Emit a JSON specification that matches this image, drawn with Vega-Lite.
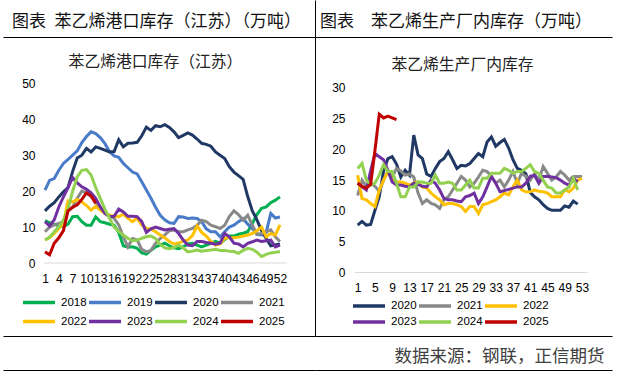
{
  "$schema": "https://vega.github.io/schema/vega-lite/v6.json",
  "background": "white",
  "padding": {"left": 3, "top": 0, "right": 5, "bottom": 4},
  "autosize": {"type": "pad"},
  "bounds": "flush",
  "spacing": 0,
  "config": {
    "view": {"stroke": null},
    "axis": {"ticks": false, "domain": false, "grid": false, "labelFont": "Liberation Sans", "labelFontSize": 12, "labelColor": "#000000", "labelOverlap": false, "labelFlush": false, "labelBound": false},
    "legend": {"orient": "none", "direction": "horizontal", "title": null, "symbolType": "stroke", "symbolSize": 1024, "symbolStrokeWidth": 3.5, "labelFont": "Liberation Sans", "labelFontSize": 11.5, "labelColor": "#000000", "labelOffset": 4, "padding": 0}
  },
  "resolve": {"scale": {"color": "independent"}, "legend": {"color": "independent"}},
  "datasets": {
    "port": [
      {"year":"2018","week":1,"value":11.8},{"year":"2018","week":2,"value":11.2},{"year":"2018","week":3,"value":10.8},{"year":"2018","week":4,"value":10.3},{"year":"2018","week":5,"value":10.1},{"year":"2018","week":6,"value":10.8},{"year":"2018","week":7,"value":12.9},{"year":"2018","week":8,"value":13.0},{"year":"2018","week":9,"value":11.5},{"year":"2018","week":10,"value":10.5},
      {"year":"2018","week":11,"value":10.5},{"year":"2018","week":12,"value":12.8},{"year":"2018","week":13,"value":11.5},{"year":"2018","week":14,"value":11.2},{"year":"2018","week":15,"value":10.8},{"year":"2018","week":16,"value":10.5},{"year":"2018","week":17,"value":8.5},{"year":"2018","week":18,"value":4.8},{"year":"2018","week":19,"value":4.4},{"year":"2018","week":20,"value":4.5},
      {"year":"2018","week":21,"value":4.1},{"year":"2018","week":22,"value":2.8},{"year":"2018","week":23,"value":2.5},{"year":"2018","week":24,"value":3.5},{"year":"2018","week":25,"value":4.5},{"year":"2018","week":26,"value":5.0},{"year":"2018","week":27,"value":5.5},{"year":"2018","week":28,"value":4.8},{"year":"2018","week":29,"value":4.2},{"year":"2018","week":30,"value":4.0},
      {"year":"2018","week":31,"value":4.5},{"year":"2018","week":32,"value":5.3},{"year":"2018","week":33,"value":5.5},{"year":"2018","week":34,"value":5.0},{"year":"2018","week":35,"value":4.5},{"year":"2018","week":36,"value":5.0},{"year":"2018","week":37,"value":5.5},{"year":"2018","week":38,"value":6.0},{"year":"2018","week":39,"value":5.5},{"year":"2018","week":40,"value":6.5},
      {"year":"2018","week":41,"value":7.5},{"year":"2018","week":42,"value":7.5},{"year":"2018","week":43,"value":8.0},{"year":"2018","week":44,"value":8.3},{"year":"2018","week":45,"value":8.7},{"year":"2018","week":46,"value":11.0},{"year":"2018","week":47,"value":13.5},{"year":"2018","week":48,"value":15.2},{"year":"2018","week":49,"value":15.6},{"year":"2018","week":50,"value":16.8},
      {"year":"2018","week":51,"value":17.5},{"year":"2018","week":52,"value":18.4},
      {"year":"2019","week":1,"value":20.3},{"year":"2019","week":2,"value":23.0},{"year":"2019","week":3,"value":23.5},{"year":"2019","week":4,"value":25.8},{"year":"2019","week":5,"value":27.7},{"year":"2019","week":6,"value":28.8},{"year":"2019","week":7,"value":30.0},{"year":"2019","week":8,"value":31.2},{"year":"2019","week":9,"value":33.5},{"year":"2019","week":10,"value":35.2},
      {"year":"2019","week":11,"value":36.5},{"year":"2019","week":12,"value":36.0},{"year":"2019","week":13,"value":34.9},{"year":"2019","week":14,"value":33.2},{"year":"2019","week":15,"value":31.0},{"year":"2019","week":16,"value":29.8},{"year":"2019","week":17,"value":29.4},{"year":"2019","week":18,"value":27.7},{"year":"2019","week":19,"value":26.5},{"year":"2019","week":20,"value":25.3},
      {"year":"2019","week":21,"value":24.8},{"year":"2019","week":22,"value":22.6},{"year":"2019","week":23,"value":20.3},{"year":"2019","week":24,"value":18.0},{"year":"2019","week":25,"value":15.5},{"year":"2019","week":26,"value":13.3},{"year":"2019","week":27,"value":12.0},{"year":"2019","week":28,"value":11.2},{"year":"2019","week":29,"value":11.0},{"year":"2019","week":30,"value":12.9},
      {"year":"2019","week":31,"value":12.8},{"year":"2019","week":32,"value":12.4},{"year":"2019","week":33,"value":12.5},{"year":"2019","week":34,"value":12.4},{"year":"2019","week":35,"value":11.5},{"year":"2019","week":36,"value":9.5},{"year":"2019","week":37,"value":8.7},{"year":"2019","week":38,"value":8.7},{"year":"2019","week":39,"value":7.3},{"year":"2019","week":40,"value":8.7},
      {"year":"2019","week":41,"value":10.0},{"year":"2019","week":42,"value":10.5},{"year":"2019","week":43,"value":11.5},{"year":"2019","week":44,"value":12.4},{"year":"2019","week":45,"value":10.8},{"year":"2019","week":46,"value":9.6},{"year":"2019","week":47,"value":8.0},{"year":"2019","week":48,"value":7.8},{"year":"2019","week":49,"value":8.5},{"year":"2019","week":50,"value":13.8},
      {"year":"2019","week":51,"value":12.5},{"year":"2019","week":52,"value":12.8},
      {"year":"2020","week":1,"value":14.5},{"year":"2020","week":2,"value":15.8},{"year":"2020","week":3,"value":16.8},{"year":"2020","week":4,"value":18.4},{"year":"2020","week":5,"value":19.8},{"year":"2020","week":6,"value":21.0},{"year":"2020","week":7,"value":25.5},{"year":"2020","week":8,"value":29.2},{"year":"2020","week":9,"value":30.0},{"year":"2020","week":10,"value":31.9},
      {"year":"2020","week":11,"value":30.9},{"year":"2020","week":12,"value":32.3},{"year":"2020","week":13,"value":31.9},{"year":"2020","week":14,"value":31.4},{"year":"2020","week":15,"value":30.9},{"year":"2020","week":16,"value":31.0},{"year":"2020","week":17,"value":34.3},{"year":"2020","week":18,"value":32.3},{"year":"2020","week":19,"value":33.3},{"year":"2020","week":20,"value":33.4},
      {"year":"2020","week":21,"value":33.6},{"year":"2020","week":22,"value":35.4},{"year":"2020","week":23,"value":37.8},{"year":"2020","week":24,"value":36.9},{"year":"2020","week":25,"value":38.2},{"year":"2020","week":26,"value":37.9},{"year":"2020","week":27,"value":38.5},{"year":"2020","week":28,"value":37.7},{"year":"2020","week":29,"value":36.5},{"year":"2020","week":30,"value":34.9},
      {"year":"2020","week":31,"value":35.5},{"year":"2020","week":32,"value":36.2},{"year":"2020","week":33,"value":35.6},{"year":"2020","week":34,"value":34.5},{"year":"2020","week":35,"value":33.3},{"year":"2020","week":36,"value":33.0},{"year":"2020","week":37,"value":32.5},{"year":"2020","week":38,"value":30.9},{"year":"2020","week":39,"value":30.0},{"year":"2020","week":40,"value":29.1},
      {"year":"2020","week":41,"value":26.8},{"year":"2020","week":42,"value":25.3},{"year":"2020","week":43,"value":24.3},{"year":"2020","week":44,"value":23.3},{"year":"2020","week":45,"value":18.5},{"year":"2020","week":46,"value":14.5},{"year":"2020","week":47,"value":12.0},{"year":"2020","week":48,"value":9.0},{"year":"2020","week":49,"value":6.8},{"year":"2020","week":50,"value":4.8},
      {"year":"2020","week":51,"value":5.0},{"year":"2020","week":52,"value":5.3},
      {"year":"2021","week":1,"value":8.7},{"year":"2021","week":2,"value":10.0},{"year":"2021","week":3,"value":10.6},{"year":"2021","week":4,"value":11.0},{"year":"2021","week":5,"value":11.5},{"year":"2021","week":6,"value":14.5},{"year":"2021","week":7,"value":15.5},{"year":"2021","week":8,"value":18.0},{"year":"2021","week":9,"value":20.0},{"year":"2021","week":10,"value":19.5},
      {"year":"2021","week":11,"value":18.5},{"year":"2021","week":12,"value":17.0},{"year":"2021","week":13,"value":15.0},{"year":"2021","week":14,"value":14.0},{"year":"2021","week":15,"value":13.3},{"year":"2021","week":16,"value":12.4},{"year":"2021","week":17,"value":10.6},{"year":"2021","week":18,"value":7.3},{"year":"2021","week":19,"value":4.5},{"year":"2021","week":20,"value":6.8},
      {"year":"2021","week":21,"value":6.4},{"year":"2021","week":22,"value":3.8},{"year":"2021","week":23,"value":3.1},{"year":"2021","week":24,"value":3.5},{"year":"2021","week":25,"value":5.5},{"year":"2021","week":26,"value":6.8},{"year":"2021","week":27,"value":7.8},{"year":"2021","week":28,"value":9.0},{"year":"2021","week":29,"value":9.2},{"year":"2021","week":30,"value":8.7},
      {"year":"2021","week":31,"value":8.7},{"year":"2021","week":32,"value":9.2},{"year":"2021","week":33,"value":9.6},{"year":"2021","week":34,"value":10.5},{"year":"2021","week":35,"value":11.9},{"year":"2021","week":36,"value":11.5},{"year":"2021","week":37,"value":10.5},{"year":"2021","week":38,"value":10.1},{"year":"2021","week":39,"value":9.6},{"year":"2021","week":40,"value":10.5},
      {"year":"2021","week":41,"value":12.9},{"year":"2021","week":42,"value":14.5},{"year":"2021","week":43,"value":13.5},{"year":"2021","week":44,"value":11.9},{"year":"2021","week":45,"value":13.3},{"year":"2021","week":46,"value":10.5},{"year":"2021","week":47,"value":8.0},{"year":"2021","week":48,"value":8.2},{"year":"2021","week":49,"value":8.7},{"year":"2021","week":50,"value":9.2},
      {"year":"2021","week":51,"value":7.3},{"year":"2021","week":52,"value":6.0},
      {"year":"2022","week":1,"value":6.4},{"year":"2022","week":2,"value":7.0},{"year":"2022","week":3,"value":8.2},{"year":"2022","week":4,"value":9.6},{"year":"2022","week":5,"value":11.0},{"year":"2022","week":6,"value":17.3},{"year":"2022","week":7,"value":17.0},{"year":"2022","week":8,"value":17.7},{"year":"2022","week":9,"value":17.0},{"year":"2022","week":10,"value":16.0},
      {"year":"2022","week":11,"value":14.7},{"year":"2022","week":12,"value":15.8},{"year":"2022","week":13,"value":14.7},{"year":"2022","week":14,"value":13.8},{"year":"2022","week":15,"value":13.3},{"year":"2022","week":16,"value":13.0},{"year":"2022","week":17,"value":12.9},{"year":"2022","week":18,"value":13.6},{"year":"2022","week":19,"value":12.4},{"year":"2022","week":20,"value":11.5},
      {"year":"2022","week":21,"value":12.5},{"year":"2022","week":22,"value":10.6},{"year":"2022","week":23,"value":9.6},{"year":"2022","week":24,"value":9.5},{"year":"2022","week":25,"value":8.7},{"year":"2022","week":26,"value":7.8},{"year":"2022","week":27,"value":7.0},{"year":"2022","week":28,"value":6.0},{"year":"2022","week":29,"value":5.3},{"year":"2022","week":30,"value":5.6},
      {"year":"2022","week":31,"value":6.0},{"year":"2022","week":32,"value":6.4},{"year":"2022","week":33,"value":7.6},{"year":"2022","week":34,"value":10.3},{"year":"2022","week":35,"value":8.5},{"year":"2022","week":36,"value":7.5},{"year":"2022","week":37,"value":6.0},{"year":"2022","week":38,"value":5.0},{"year":"2022","week":39,"value":5.3},{"year":"2022","week":40,"value":6.9},
      {"year":"2022","week":41,"value":7.0},{"year":"2022","week":42,"value":7.0},{"year":"2022","week":43,"value":7.2},{"year":"2022","week":44,"value":7.5},{"year":"2022","week":45,"value":7.8},{"year":"2022","week":46,"value":8.2},{"year":"2022","week":47,"value":9.0},{"year":"2022","week":48,"value":10.0},{"year":"2022","week":49,"value":7.3},{"year":"2022","week":50,"value":8.2},
      {"year":"2022","week":51,"value":7.8},{"year":"2022","week":52,"value":10.6},
      {"year":"2023","week":1,"value":11.5},{"year":"2023","week":2,"value":10.3},{"year":"2023","week":3,"value":12.0},{"year":"2023","week":4,"value":15.6},{"year":"2023","week":5,"value":18.4},{"year":"2023","week":6,"value":21.0},{"year":"2023","week":7,"value":23.8},{"year":"2023","week":8,"value":22.3},{"year":"2023","week":9,"value":21.2},{"year":"2023","week":10,"value":20.5},
      {"year":"2023","week":11,"value":19.5},{"year":"2023","week":12,"value":18.0},{"year":"2023","week":13,"value":15.6},{"year":"2023","week":14,"value":13.8},{"year":"2023","week":15,"value":12.9},{"year":"2023","week":16,"value":13.0},{"year":"2023","week":17,"value":15.0},{"year":"2023","week":18,"value":14.2},{"year":"2023","week":19,"value":13.0},{"year":"2023","week":20,"value":13.0},
      {"year":"2023","week":21,"value":12.9},{"year":"2023","week":22,"value":11.5},{"year":"2023","week":23,"value":8.5},{"year":"2023","week":24,"value":9.5},{"year":"2023","week":25,"value":10.0},{"year":"2023","week":26,"value":9.6},{"year":"2023","week":27,"value":9.2},{"year":"2023","week":28,"value":9.4},{"year":"2023","week":29,"value":9.6},{"year":"2023","week":30,"value":8.2},
      {"year":"2023","week":31,"value":6.4},{"year":"2023","week":32,"value":5.0},{"year":"2023","week":33,"value":4.8},{"year":"2023","week":34,"value":6.0},{"year":"2023","week":35,"value":6.0},{"year":"2023","week":36,"value":5.7},{"year":"2023","week":37,"value":5.5},{"year":"2023","week":38,"value":5.2},{"year":"2023","week":39,"value":5.5},{"year":"2023","week":40,"value":8.2},
      {"year":"2023","week":41,"value":7.3},{"year":"2023","week":42,"value":5.5},{"year":"2023","week":43,"value":5.3},{"year":"2023","week":44,"value":4.5},{"year":"2023","week":45,"value":5.5},{"year":"2023","week":46,"value":5.9},{"year":"2023","week":47,"value":6.4},{"year":"2023","week":48,"value":6.0},{"year":"2023","week":49,"value":6.2},{"year":"2023","week":50,"value":6.4},
      {"year":"2023","week":51,"value":4.5},{"year":"2023","week":52,"value":5.0},
      {"year":"2024","week":1,"value":6.4},{"year":"2024","week":2,"value":7.2},{"year":"2024","week":3,"value":8.7},{"year":"2024","week":4,"value":10.1},{"year":"2024","week":5,"value":11.9},{"year":"2024","week":6,"value":15.0},{"year":"2024","week":7,"value":20.0},{"year":"2024","week":8,"value":24.0},{"year":"2024","week":9,"value":25.8},{"year":"2024","week":10,"value":26.0},
      {"year":"2024","week":11,"value":24.5},{"year":"2024","week":12,"value":21.0},{"year":"2024","week":13,"value":18.0},{"year":"2024","week":14,"value":15.0},{"year":"2024","week":15,"value":12.5},{"year":"2024","week":16,"value":10.0},{"year":"2024","week":17,"value":8.8},{"year":"2024","week":18,"value":7.8},{"year":"2024","week":19,"value":6.9},{"year":"2024","week":20,"value":6.2},
      {"year":"2024","week":21,"value":6.3},{"year":"2024","week":22,"value":6.9},{"year":"2024","week":23,"value":7.3},{"year":"2024","week":24,"value":7.5},{"year":"2024","week":25,"value":6.8},{"year":"2024","week":26,"value":5.2},{"year":"2024","week":27,"value":4.2},{"year":"2024","week":28,"value":4.0},{"year":"2024","week":29,"value":4.3},{"year":"2024","week":30,"value":5.0},
      {"year":"2024","week":31,"value":4.2},{"year":"2024","week":32,"value":3.1},{"year":"2024","week":33,"value":3.3},{"year":"2024","week":34,"value":3.6},{"year":"2024","week":35,"value":3.3},{"year":"2024","week":36,"value":3.5},{"year":"2024","week":37,"value":3.6},{"year":"2024","week":38,"value":3.8},{"year":"2024","week":39,"value":3.5},{"year":"2024","week":40,"value":3.5},
      {"year":"2024","week":41,"value":3.3},{"year":"2024","week":42,"value":3.2},{"year":"2024","week":43,"value":2.7},{"year":"2024","week":44,"value":3.5},{"year":"2024","week":45,"value":4.1},{"year":"2024","week":46,"value":3.8},{"year":"2024","week":47,"value":3.0},{"year":"2024","week":48,"value":1.8},{"year":"2024","week":49,"value":2.4},{"year":"2024","week":50,"value":2.8},
      {"year":"2024","week":51,"value":3.0},{"year":"2024","week":52,"value":3.1},
      {"year":"2025","week":1,"value":3.1},{"year":"2025","week":2,"value":2.3},{"year":"2025","week":3,"value":5.5},{"year":"2025","week":4,"value":7.0},{"year":"2025","week":5,"value":9.0},{"year":"2025","week":6,"value":14.5},{"year":"2025","week":7,"value":15.5},{"year":"2025","week":8,"value":16.2},{"year":"2025","week":9,"value":17.7},{"year":"2025","week":10,"value":19.5},
      {"year":"2025","week":11,"value":18.7},{"year":"2025","week":12,"value":16.6}
    ],
    "plant": [
      {"year":"2020","week":1,"value":7.7},{"year":"2020","week":2,"value":8.3},{"year":"2020","week":3,"value":7.7},{"year":"2020","week":4,"value":7.8},{"year":"2020","week":5,"value":10.1},{"year":"2020","week":6,"value":12.3},{"year":"2020","week":7,"value":16.5},{"year":"2020","week":8,"value":18.5},{"year":"2020","week":9,"value":18.8},{"year":"2020","week":10,"value":17.6},
      {"year":"2020","week":11,"value":15.5},{"year":"2020","week":12,"value":16.6},{"year":"2020","week":13,"value":15.8},{"year":"2020","week":14,"value":22.3},{"year":"2020","week":15,"value":19.1},{"year":"2020","week":16,"value":18.5},{"year":"2020","week":17,"value":16.0},{"year":"2020","week":18,"value":15.6},{"year":"2020","week":19,"value":16.9},{"year":"2020","week":20,"value":18.0},
      {"year":"2020","week":21,"value":18.5},{"year":"2020","week":22,"value":19.6},{"year":"2020","week":23,"value":18.3},{"year":"2020","week":24,"value":16.9},{"year":"2020","week":25,"value":17.4},{"year":"2020","week":26,"value":17.3},{"year":"2020","week":27,"value":17.7},{"year":"2020","week":28,"value":18.5},{"year":"2020","week":29,"value":19.3},{"year":"2020","week":30,"value":18.8},
      {"year":"2020","week":31,"value":21.2},{"year":"2020","week":32,"value":22.0},{"year":"2020","week":33,"value":20.5},{"year":"2020","week":34,"value":21.1},{"year":"2020","week":35,"value":21.6},{"year":"2020","week":36,"value":20.2},{"year":"2020","week":37,"value":18.3},{"year":"2020","week":38,"value":16.9},{"year":"2020","week":39,"value":16.6},{"year":"2020","week":40,"value":16.0},
      {"year":"2020","week":41,"value":13.0},{"year":"2020","week":42,"value":12.3},{"year":"2020","week":43,"value":11.8},{"year":"2020","week":44,"value":11.0},{"year":"2020","week":45,"value":10.4},{"year":"2020","week":46,"value":10.1},{"year":"2020","week":47,"value":10.1},{"year":"2020","week":48,"value":10.1},{"year":"2020","week":49,"value":10.8},{"year":"2020","week":50,"value":10.6},
      {"year":"2020","week":51,"value":11.6},{"year":"2020","week":52,"value":11.1},
      {"year":"2021","week":1,"value":12.5},{"year":"2021","week":2,"value":15.0},{"year":"2021","week":3,"value":14.0},{"year":"2021","week":4,"value":14.5},{"year":"2021","week":5,"value":14.0},{"year":"2021","week":6,"value":13.2},{"year":"2021","week":7,"value":15.0},{"year":"2021","week":8,"value":16.5},{"year":"2021","week":9,"value":15.5},{"year":"2021","week":10,"value":16.9},
      {"year":"2021","week":11,"value":16.5},{"year":"2021","week":12,"value":15.8},{"year":"2021","week":13,"value":16.0},{"year":"2021","week":14,"value":15.5},{"year":"2021","week":15,"value":12.9},{"year":"2021","week":16,"value":11.2},{"year":"2021","week":17,"value":11.8},{"year":"2021","week":18,"value":11.2},{"year":"2021","week":19,"value":11.0},{"year":"2021","week":20,"value":10.4},
      {"year":"2021","week":21,"value":11.8},{"year":"2021","week":22,"value":12.3},{"year":"2021","week":23,"value":13.4},{"year":"2021","week":24,"value":14.5},{"year":"2021","week":25,"value":15.6},{"year":"2021","week":26,"value":15.0},{"year":"2021","week":27,"value":13.9},{"year":"2021","week":28,"value":14.5},{"year":"2021","week":29,"value":15.5},{"year":"2021","week":30,"value":16.6},
      {"year":"2021","week":31,"value":16.4},{"year":"2021","week":32,"value":15.6},{"year":"2021","week":33,"value":14.5},{"year":"2021","week":34,"value":15.0},{"year":"2021","week":35,"value":13.9},{"year":"2021","week":36,"value":15.0},{"year":"2021","week":37,"value":16.4},{"year":"2021","week":38,"value":14.5},{"year":"2021","week":39,"value":16.1},{"year":"2021","week":40,"value":15.6},
      {"year":"2021","week":41,"value":15.0},{"year":"2021","week":42,"value":16.0},{"year":"2021","week":43,"value":15.0},{"year":"2021","week":44,"value":17.2},{"year":"2021","week":45,"value":16.1},{"year":"2021","week":46,"value":15.0},{"year":"2021","week":47,"value":15.5},{"year":"2021","week":48,"value":16.4},{"year":"2021","week":49,"value":15.8},{"year":"2021","week":50,"value":15.0},
      {"year":"2021","week":51,"value":15.6},{"year":"2021","week":52,"value":15.6},{"year":"2021","week":53,"value":15.6},
      {"year":"2022","week":1,"value":15.8},{"year":"2022","week":2,"value":12.0},{"year":"2022","week":3,"value":11.8},{"year":"2022","week":4,"value":11.2},{"year":"2022","week":5,"value":10.7},{"year":"2022","week":6,"value":13.4},{"year":"2022","week":7,"value":15.0},{"year":"2022","week":8,"value":16.4},{"year":"2022","week":9,"value":15.0},{"year":"2022","week":10,"value":14.7},
      {"year":"2022","week":11,"value":14.7},{"year":"2022","week":12,"value":14.5},{"year":"2022","week":13,"value":14.2},{"year":"2022","week":14,"value":14.5},{"year":"2022","week":15,"value":14.7},{"year":"2022","week":16,"value":13.9},{"year":"2022","week":17,"value":13.7},{"year":"2022","week":18,"value":12.9},{"year":"2022","week":19,"value":12.3},{"year":"2022","week":20,"value":11.8},
      {"year":"2022","week":21,"value":11.0},{"year":"2022","week":22,"value":11.2},{"year":"2022","week":23,"value":11.2},{"year":"2022","week":24,"value":11.0},{"year":"2022","week":25,"value":10.7},{"year":"2022","week":26,"value":9.9},{"year":"2022","week":27,"value":10.7},{"year":"2022","week":28,"value":10.7},{"year":"2022","week":29,"value":9.6},{"year":"2022","week":30,"value":11.0},
      {"year":"2022","week":31,"value":11.2},{"year":"2022","week":32,"value":11.5},{"year":"2022","week":33,"value":11.8},{"year":"2022","week":34,"value":12.3},{"year":"2022","week":35,"value":12.9},{"year":"2022","week":36,"value":12.6},{"year":"2022","week":37,"value":13.9},{"year":"2022","week":38,"value":15.0},{"year":"2022","week":39,"value":13.4},{"year":"2022","week":40,"value":13.1},
      {"year":"2022","week":41,"value":13.1},{"year":"2022","week":42,"value":13.4},{"year":"2022","week":43,"value":13.2},{"year":"2022","week":44,"value":13.1},{"year":"2022","week":45,"value":12.9},{"year":"2022","week":46,"value":12.3},{"year":"2022","week":47,"value":12.3},{"year":"2022","week":48,"value":12.3},{"year":"2022","week":49,"value":13.4},{"year":"2022","week":50,"value":13.1},
      {"year":"2022","week":51,"value":13.7},{"year":"2022","week":52,"value":15.0},{"year":"2022","week":53,"value":15.3},
      {"year":"2023","week":1,"value":14.5},{"year":"2023","week":2,"value":13.9},{"year":"2023","week":3,"value":13.4},{"year":"2023","week":4,"value":16.5},{"year":"2023","week":5,"value":19.3},{"year":"2023","week":6,"value":18.8},{"year":"2023","week":7,"value":18.3},{"year":"2023","week":8,"value":16.6},{"year":"2023","week":9,"value":14.7},{"year":"2023","week":10,"value":14.2},
      {"year":"2023","week":11,"value":14.2},{"year":"2023","week":12,"value":14.0},{"year":"2023","week":13,"value":13.9},{"year":"2023","week":14,"value":14.5},{"year":"2023","week":15,"value":14.3},{"year":"2023","week":16,"value":14.0},{"year":"2023","week":17,"value":13.9},{"year":"2023","week":18,"value":15.0},{"year":"2023","week":19,"value":14.5},{"year":"2023","week":20,"value":13.4},
      {"year":"2023","week":21,"value":12.0},{"year":"2023","week":22,"value":11.8},{"year":"2023","week":23,"value":11.8},{"year":"2023","week":24,"value":11.6},{"year":"2023","week":25,"value":11.5},{"year":"2023","week":26,"value":12.3},{"year":"2023","week":27,"value":12.5},{"year":"2023","week":28,"value":12.9},{"year":"2023","week":29,"value":11.2},{"year":"2023","week":30,"value":12.3},
      {"year":"2023","week":31,"value":13.9},{"year":"2023","week":32,"value":15.6},{"year":"2023","week":33,"value":14.5},{"year":"2023","week":34,"value":13.1},{"year":"2023","week":35,"value":13.3},{"year":"2023","week":36,"value":13.5},{"year":"2023","week":37,"value":13.7},{"year":"2023","week":38,"value":13.9},{"year":"2023","week":39,"value":13.9},{"year":"2023","week":40,"value":14.5},
      {"year":"2023","week":41,"value":15.6},{"year":"2023","week":42,"value":15.8},{"year":"2023","week":43,"value":14.5},{"year":"2023","week":44,"value":15.6},{"year":"2023","week":45,"value":15.6},{"year":"2023","week":46,"value":15.5},{"year":"2023","week":47,"value":15.4},{"year":"2023","week":48,"value":15.0},{"year":"2023","week":49,"value":14.5},{"year":"2023","week":50,"value":14.2},
      {"year":"2023","week":51,"value":15.3},{"year":"2023","week":52,"value":14.7},
      {"year":"2024","week":1,"value":16.9},{"year":"2024","week":2,"value":17.7},{"year":"2024","week":3,"value":15.0},{"year":"2024","week":4,"value":14.2},{"year":"2024","week":5,"value":14.5},{"year":"2024","week":6,"value":15.8},{"year":"2024","week":7,"value":17.5},{"year":"2024","week":8,"value":16.4},{"year":"2024","week":9,"value":16.4},{"year":"2024","week":10,"value":14.5},
      {"year":"2024","week":11,"value":12.3},{"year":"2024","week":12,"value":12.3},{"year":"2024","week":13,"value":13.9},{"year":"2024","week":14,"value":13.9},{"year":"2024","week":15,"value":14.7},{"year":"2024","week":16,"value":14.7},{"year":"2024","week":17,"value":14.5},{"year":"2024","week":18,"value":14.5},{"year":"2024","week":19,"value":15.8},{"year":"2024","week":20,"value":14.5},
      {"year":"2024","week":21,"value":14.5},{"year":"2024","week":22,"value":14.7},{"year":"2024","week":23,"value":14.5},{"year":"2024","week":24,"value":13.4},{"year":"2024","week":25,"value":13.4},{"year":"2024","week":26,"value":14.2},{"year":"2024","week":27,"value":15.0},{"year":"2024","week":28,"value":13.7},{"year":"2024","week":29,"value":13.7},{"year":"2024","week":30,"value":15.3},
      {"year":"2024","week":31,"value":15.3},{"year":"2024","week":32,"value":16.1},{"year":"2024","week":33,"value":16.1},{"year":"2024","week":34,"value":16.1},{"year":"2024","week":35,"value":16.9},{"year":"2024","week":36,"value":16.6},{"year":"2024","week":37,"value":16.1},{"year":"2024","week":38,"value":16.4},{"year":"2024","week":39,"value":16.4},{"year":"2024","week":40,"value":16.9},
      {"year":"2024","week":41,"value":17.5},{"year":"2024","week":42,"value":16.4},{"year":"2024","week":43,"value":16.1},{"year":"2024","week":44,"value":15.0},{"year":"2024","week":45,"value":13.9},{"year":"2024","week":46,"value":13.7},{"year":"2024","week":47,"value":12.9},{"year":"2024","week":48,"value":12.9},{"year":"2024","week":49,"value":13.4},{"year":"2024","week":50,"value":13.9},
      {"year":"2024","week":51,"value":15.3},{"year":"2024","week":52,"value":13.4},
      {"year":"2025","week":1,"value":14.5},{"year":"2025","week":2,"value":14.0},{"year":"2025","week":3,"value":13.7},{"year":"2025","week":4,"value":14.3},{"year":"2025","week":5,"value":19.8},{"year":"2025","week":6,"value":25.7},{"year":"2025","week":7,"value":25.1},{"year":"2025","week":8,"value":25.4},{"year":"2025","week":9,"value":25.1},{"year":"2025","week":10,"value":24.8}
    ]
  },
  "hconcat": [
    {
      "width": 312,
      "height": 336,
      "title": {"text": "图表\u2002苯乙烯港口库存（江苏）（万吨）", "anchor": "start", "frame": "group", "offset": -39, "dx": 9, "baseline": "middle", "font": "Noto Sans CJK SC", "fontSize": 17, "fontWeight": "normal", "color": "#111111"},
      "resolve": {"axis": {"x": "independent", "y": "independent"}},
      "layer": [
        {
          "data": {"values": [{}]},
          "mark": {"type": "rule", "color": "#D9D9D9", "strokeWidth": 1},
          "encoding": {
            "x": {"datum": 0.8, "type": "quantitative", "scale": {"domain": [-8.115, 59.6], "nice": false, "zero": false},
                  "axis": {"orient": "bottom", "offset": -73, "values": [1,4,7,10,13,16,19,22,25,28,31,34,37,40,43,46,49,52], "labelPadding": 10, "title": null}},
            "x2": {"datum": 53.5},
            "y": {"datum": 0, "type": "quantitative", "scale": {"domain": [-20.31, 73.18], "nice": false, "zero": false},
                  "axis": {"orient": "left", "offset": -42, "values": [0,10,20,30,40,50], "labelPadding": 10, "title": null}}
          }
        },
        {
          "data": {"name": "port"},
          "mark": {"type": "line", "strokeWidth": 3},
          "encoding": {
            "x": {"field": "week", "type": "quantitative", "scale": {"domain": [-8.115, 59.6], "nice": false, "zero": false},
                  "axis": {"orient": "top", "labels": false, "title": "苯乙烯港口库存（江苏）", "titleX": 152, "titleY": 61, "titleAlign": "center", "titleBaseline": "middle", "titleFont": "Noto Sans CJK SC", "titleFontSize": 15.8, "titleFontWeight": "normal", "titleColor": "#222222"}},
            "y": {"field": "value", "type": "quantitative", "scale": {"domain": [-20.31, 73.18], "nice": false, "zero": false},
                  "axis": {"orient": "right", "labels": false, "domain": true, "domainColor": "#000000", "grid": true, "gridColor": "#000000", "gridOpacity": 1, "values": [62.89, -20.31], "title": null}},
            "color": {"field": "year", "type": "nominal",
                      "scale": {"domain": ["2018","2019","2020","2021","2022","2023","2024","2025"], "range": ["#00B050","#4A7BC8","#203864","#898989","#FFC000","#7030A0","#92D050","#C00000"]},
                      "legend": {"columns": 4, "legendX": 18, "legendY": 293, "clipHeight": 19, "columnPadding": 0, "rowPadding": 0}}
          }
        },
        {
          "data": {"values": [{}]},
          "mark": {"type": "rule", "opacity": 0},
          "encoding": {
            "x": {"datum": 1, "type": "quantitative", "scale": {"domain": [-8.115, 59.6], "nice": false, "zero": false},
                  "axis": {"orient": "bottom", "offset": 34, "labels": false, "domain": true, "domainColor": "#000000", "title": null}}
          }
        }
      ]
    },
    {
      "width": 297,
      "height": 336,
      "title": {"text": "图表\u2002\u2002苯乙烯生产厂内库存（万吨）", "anchor": "start", "frame": "group", "offset": -39, "dx": 5, "baseline": "middle", "font": "Noto Sans CJK SC", "fontSize": 17, "fontWeight": "normal", "color": "#111111"},
      "resolve": {"axis": {"x": "independent", "y": "independent"}},
      "layer": [
        {
          "data": {"values": [{}]},
          "mark": {"type": "rule", "color": "#D9D9D9", "strokeWidth": 1},
          "encoding": {
            "x": {"datum": 0.4, "type": "quantitative", "scale": {"domain": [-8.9, 59.96], "nice": false, "zero": false},
                  "axis": {"orient": "bottom", "offset": -63.5, "values": [1,5,9,13,17,21,25,29,33,37,41,45,49,53], "labelPadding": 10, "title": null}},
            "x2": {"datum": 54.3},
            "y": {"datum": 0, "type": "quantitative", "scale": {"domain": [-10.31, 44.24], "nice": false, "zero": false},
                  "axis": {"orient": "left", "offset": -40, "values": [0,5,10,15,20,25,30], "labelPadding": 10, "title": null}}
          }
        },
        {
          "data": {"name": "plant"},
          "mark": {"type": "line", "strokeWidth": 3},
          "encoding": {
            "x": {"field": "week", "type": "quantitative", "scale": {"domain": [-8.9, 59.96], "nice": false, "zero": false},
                  "axis": {"orient": "top", "labels": false, "title": "苯乙烯生产厂内库存", "titleX": 147, "titleY": 64, "titleAlign": "center", "titleBaseline": "middle", "titleFont": "Noto Sans CJK SC", "titleFontSize": 15.8, "titleFontWeight": "normal", "titleColor": "#222222"}},
            "y": {"field": "value", "type": "quantitative", "scale": {"domain": [-10.31, 44.24], "nice": false, "zero": false},
                  "axis": {"orient": "right", "labels": false, "domain": false, "grid": true, "gridColor": "#000000", "gridOpacity": 1, "values": [38.23, -10.31], "title": null}},
            "color": {"field": "year", "type": "nominal",
                      "scale": {"domain": ["2020","2021","2022","2023","2024","2025"], "range": ["#203864","#898989","#FFC000","#7030A0","#92D050","#C00000"]},
                      "legend": {"columns": 3, "legendX": 36, "legendY": 298, "clipHeight": 16, "columnPadding": 0, "rowPadding": 0}}
          }
        },
        {
          "data": {"values": [{}]},
          "mark": {"type": "rule", "opacity": 0},
          "encoding": {
            "x": {"datum": 1, "type": "quantitative", "scale": {"domain": [-8.9, 59.96], "nice": false, "zero": false},
                  "axis": {"orient": "bottom", "offset": 34, "labels": false, "domain": true, "domainColor": "#000000",
                           "title": "数据来源：钢联，正信期货", "titleX": 289, "titleY": -14, "titleAlign": "right", "titleBaseline": "middle", "titleFont": "Noto Sans CJK SC", "titleFontSize": 17.5, "titleFontWeight": "normal", "titleColor": "#404040"}}
          }
        }
      ]
    }
  ]
}
